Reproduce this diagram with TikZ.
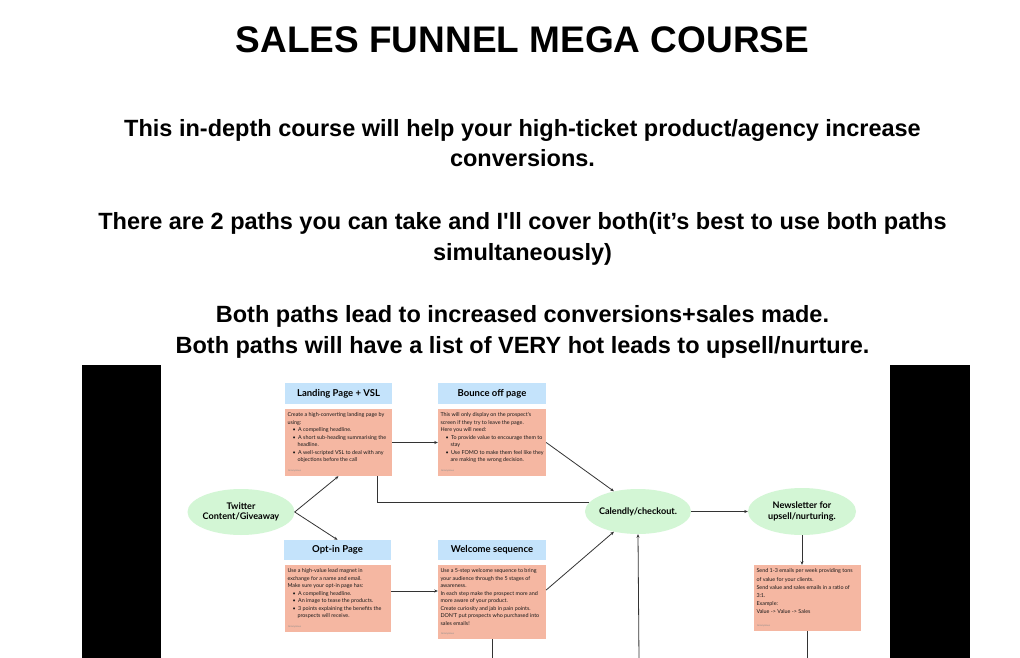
\documentclass[tikz,border=0pt]{standalone}
\usepackage{fontspec}
\setmainfont{Liberation Sans}
\newfontfamily\dfont{Lato}
\usetikzlibrary{shapes.geometric,arrows.meta}
\definecolor{hdr}{HTML}{C4E3FB}
\definecolor{bod}{HTML}{F5B7A2}
\definecolor{ell}{HTML}{D3F6D5}
\definecolor{ln}{HTML}{333333}
\newcommand\bul[1]{\hspace*{5pt}\textbullet\hspace{2.5pt}#1}
\newcommand\cnt[1]{\hspace*{10pt}#1}
\tikzset{
  x=1pt, y=-1pt,
  titletxt/.style={anchor=base, inner sep=0, font=\fontsize{37}{40}\selectfont\bfseries},
  paratxt/.style={anchor=base, inner sep=0, font=\fontsize{23.5}{26}\selectfont\bfseries},
  hdrbox/.style={fill=hdr, minimum width=107pt, minimum height=20.5pt, inner sep=0, font=\dfont\bfseries\fontsize{9.5}{11}\selectfont},
  bodybox/.style={fill=bod, inner sep=0},
  btext/.style={anchor=north west, align=left, inner sep=0, xshift=2.5pt, yshift=-4pt, font=\dfont\fontsize{5.4}{7.5}\selectfont, text=black!90},
  note/.style={anchor=south west, inner sep=0, xshift=3pt, yshift=4pt, font=\dfont\fontsize{2.5}{3}\selectfont, text=black!45},
  bubble/.style={ellipse, fill=ell, inner sep=0},
  bubbletxt/.style={inner sep=0, align=center, font=\dfont\bfseries\fontsize{9.1}{10.5}\selectfont},
  arr/.style={draw=ln, line width=0.8pt, -{Stealth[length=3.5pt,width=3pt]}},
  plain/.style={draw=ln, line width=0.8pt}
}
\begin{document}
\begin{tikzpicture}
\useasboundingbox[fill=white] (0,0) rectangle (1020,658);
% heading texts
\node[titletxt] (title) at (522.5,53) {SALES FUNNEL MEGA COURSE};
\node[paratxt] (p1) at (522.5,136) {This in-depth course will help your high-ticket product/agency increase};
\node[paratxt] (p2) at (522.5,167) {conversions.};
\node[paratxt] (p3) at (522.5,229) {There are 2 paths you can take and I\textquotesingle ll cover both(it’s best to use both paths};
\node[paratxt] (p4) at (522.5,260) {simultaneously)};
\node[paratxt] (p5) at (522.5,322) {Both paths lead to increased conversions+sales made.};
\node[paratxt] (p6) at (522.5,353) {Both paths will have a list of VERY hot leads to upsell/nurture.};
% black side bars
\fill[black] (82,365) rectangle (161,658);
\fill[black] (890,365) rectangle (970,658);
% headers
\node[hdrbox] (lh) at (338.5,393.5) {Landing Page + VSL};
\node[hdrbox, minimum width=108pt] (bh) at (492,393.5) {Bounce off page};
\node[hdrbox, minimum height=20pt] (oh) at (337.5,550) {Opt-in Page};
\node[hdrbox, minimum width=108pt, minimum height=20pt] (wh) at (492,550) {Welcome sequence};
% bodies
\node[bodybox, minimum width=107pt, minimum height=67pt] (lb) at (338.5,442.5) {};
\node[btext] at (lb.north west) {Create a high-converting landing page by\\using:\\\bul{A compelling headline.}\\\bul{A short sub-heading summarising the}\\\cnt{headline.}\\\bul{A well-scripted VSL to deal with any}\\\cnt{objections before the call}};
\node[note] at (lb.south west) {Anonymous};
\node[bodybox, minimum width=108pt, minimum height=67pt] (bb) at (492,442.5) {};
\node[btext] at (bb.north west) {This will only display on the prospect\textquotesingle s\\screen if they try to leave the page.\\Here you will need:\\\bul{To provide value to encourage them to}\\\cnt{stay}\\\bul{Use FOMO to make them feel like they}\\\cnt{are making the wrong decision.}};
\node[note] at (bb.south west) {Anonymous};
\node[bodybox, minimum width=106pt, minimum height=67pt] (ob) at (338,598.5) {};
\node[btext] at (ob.north west) {Use a high-value lead magnet in\\exchange for a name and email.\\Make sure your opt-in page has:\\\bul{A compelling headline.}\\\bul{An image to tease the products.}\\\bul{3 points explaining the benefits the}\\\cnt{prospects will receive.}};
\node[note] at (ob.south west) {Anonymous};
\node[bodybox, minimum width=108pt, minimum height=74pt] (wb) at (492,602) {};
\node[btext] at (wb.north west) {Use a 5-step welcome sequence to bring\\your audience through the 5 stages of\\awareness.\\In each step make the prospect more and\\more aware of your product.\\Create curiosity and jab in pain points.\\DON\textquotesingle T put prospects who purchased into\\sales emails!};
\node[note] at (wb.south west) {Anonymous};
\node[bodybox, minimum width=107pt, minimum height=66pt] (nb) at (807.5,598) {};
\node[btext, font=\dfont\fontsize{5.4}{8.2}\selectfont] at (nb.north west) {Send 1-3 emails per week providing tons\\of value for your clients.\\Send value and sales emails in a ratio of\\3:1.\\Example:\\Value -\/> Value -\/> Sales};
\node[note] at (nb.south west) {Anonymous};
% ellipses
\node[bubble, minimum width=107pt, minimum height=46pt] (tw) at (241,512) {};
\node[bubbletxt] (twt) at (tw) {Twitter\\Content/Giveaway};
\node[bubble, minimum width=106pt, minimum height=45pt] (cal) at (638,511.5) {};
\node[bubbletxt] (calt) at (cal) {Calendly/checkout.};
\node[bubble, minimum width=108pt, minimum height=47pt] (news) at (802,511.5) {};
\node[bubbletxt] (newst) at (news) {Newsletter for\\upsell/nurturing.};
% free ends at the bottom
\coordinate (wbend) at (492,660);
\coordinate (calend) at (639,660);
\coordinate (nbend) at (807.5,660);
% connectors
\draw[arr] (tw.east) -- (lb.south);
\draw[arr] (tw.east) -- (oh.north);
\draw[arr] (lb.east) -- (bb.west);
\draw[arr] (bb.east) -- (cal.140);
\draw[plain] ([xshift=38.5pt]lb.south) |- (cal.170);
\draw[arr] ([yshift=7.5pt]ob.east) -- ([yshift=11pt]wb.west);
\draw[arr] ([yshift=12pt]wb.east) -- (cal.220);
\draw[arr] (cal.east) -- (news.west);
\draw[arr] (news.south) -- (news.south |- nb.north);
\draw[plain] (wb.south) -- (wbend);
\draw[arr] (calend) -- (cal.south);
\draw[plain] (nb.south) -- (nbend);
\end{tikzpicture}
\end{document}
